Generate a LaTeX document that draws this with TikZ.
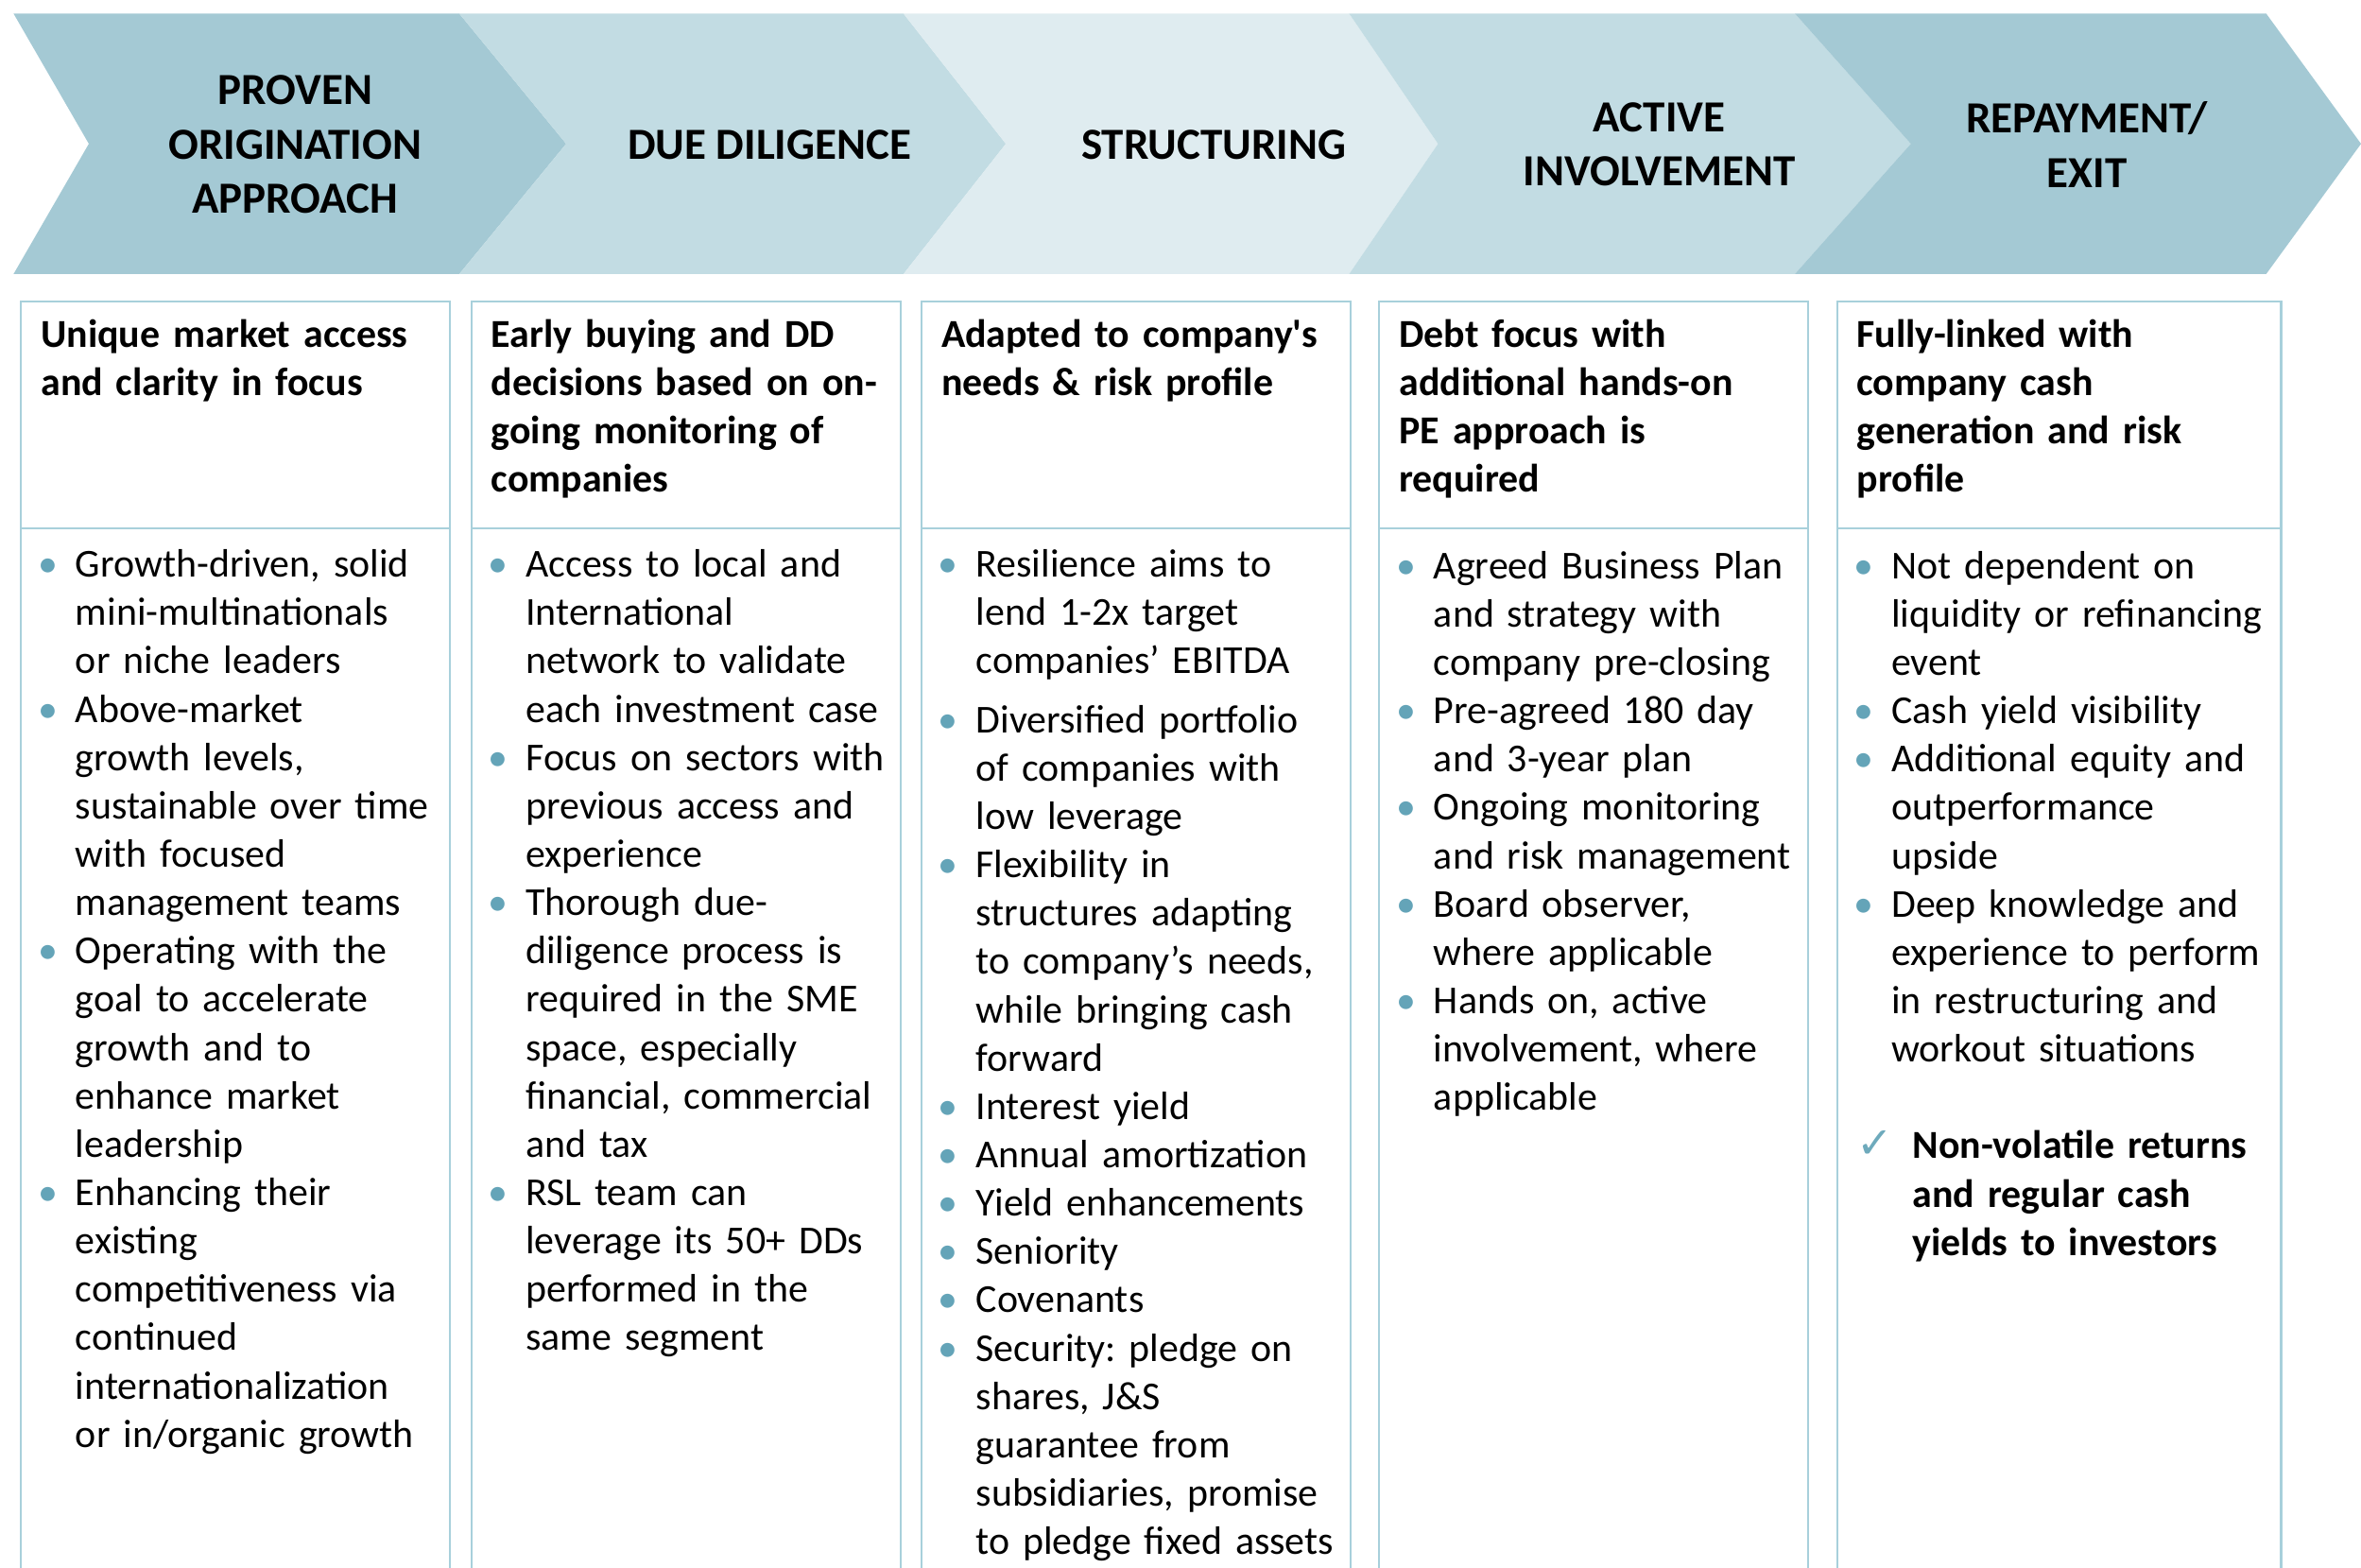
\documentclass[tikz,border=0pt]{standalone}
\usepackage{fontspec}
\setmainfont{Carlito}
\newfontfamily\dejavu{DejaVu Sans}
\definecolor{chevA}{RGB}{164,201,212}
\definecolor{chevB}{RGB}{194,220,227}
\definecolor{chevC}{RGB}{223,236,240}
\definecolor{bord}{RGB}{168,208,219}
\definecolor{bul}{RGB}{100,164,184}
\definecolor{chkc}{RGB}{110,170,188}
\frenchspacing
\newcommand\itm{\par\hangindent=26bp\hangafter=1\noindent\makebox[26bp][l]{\hspace{1bp}{\color{bul}\textbullet}}\strut}
\newcommand\chkitm{\par\hangindent=40bp\hangafter=1\noindent\makebox[40bp][l]{\hspace{3bp}{\dejavu\fontsize{29bp}{29bp}\selectfont\color{chkc}✓}}\strut}
\tikzset{
  ttl/.style={font=\fontsize{29.5bp}{36bp}\selectfont\bfseries, align=center, inner sep=0pt},
  hdr/.style={anchor=north west, inner sep=0pt, text width=300bp, font=\fontsize{26.3bp}{32.1bp}\selectfont\bfseries},
  bdy/.style={anchor=north west, inner sep=0pt, text width=300bp, font=\fontsize{26.3bp}{32.1bp}\selectfont},
  boxline/.style={draw=bord, line width=1.4bp}
}
\begin{document}
\begin{tikzpicture}[x=1bp,y=1bp]
\clip (0,0) rectangle (1568,-1041);
\fill[white] (0,0) rectangle (1568,-1041);
% chevrons
\fill[chevA] (9,-9) -- (305,-9) -- (376,-95.5) -- (305,-182) -- (9,-182) -- (59,-95.5) -- cycle;
\fill[chevB] (305,-9) -- (600,-9) -- (668,-95.5) -- (600,-182) -- (305,-182) -- (376,-95.5) -- cycle;
\fill[chevC] (600,-9) -- (896,-9) -- (955,-95.5) -- (896,-182) -- (600,-182) -- (668,-95.5) -- cycle;
\fill[chevB] (896,-9) -- (1192,-9) -- (1269,-95.5) -- (1192,-182) -- (896,-182) -- (955,-95.5) -- cycle;
\fill[chevA] (1192,-9) -- (1505,-9) -- (1568,-95.5) -- (1505,-182) -- (1192,-182) -- (1269,-95.5) -- cycle;
\node[ttl] (t1) at (196,-96) {PROVEN\\ORIGINATION\\APPROACH};
\node[ttl] (t2) at (511,-96) {DUE DILIGENCE};
\node[ttl] (t3) at (806,-96) {STRUCTURING};
\node[ttl] (t4) at (1102,-96) {ACTIVE\\INVOLVEMENT};
\node[ttl] (t5) at (1386,-96) {REPAYMENT/\\EXIT};
% boxes
\foreach \l/\r in {14/299,313/598,612/897,916/1201,1220/1515}{
  \draw[boxline] (\l,-1060) -- (\l,-200) -- (\r,-200) -- (\r,-1060);
  \draw[boxline] (\l,-351) -- (\r,-351);
}
% headers
\node[hdr] (h1) at (27,-208) {\raggedright\noindent\strut Unique market access\newline and clarity in focus};
\node[hdr] (h2) at (326,-208) {\raggedright\noindent\strut Early buying and DD\newline decisions based on on-\newline going monitoring of\newline companies};
\node[hdr] (h3) at (625,-208) {\raggedright\noindent\strut Adapted to company\textquotesingle s\newline needs \& risk profile};
\node[hdr] (h4) at (929,-208) {\raggedright\noindent\strut Debt focus with\newline additional hands-on\newline PE approach is\newline required};
\node[hdr] (h5) at (1233,-208) {\raggedright\noindent\strut Fully-linked with\newline company cash\newline generation and risk\newline profile};
% bodies
\node[bdy] (b1) at (24,-351) {\raggedright\parskip=0pt
\itm Growth-driven, solid\newline mini-multinationals\newline or niche leaders
\itm Above-market\newline growth levels,\newline sustainable over time\newline with focused\newline management teams
\itm Operating with the\newline goal to accelerate\newline growth and to\newline enhance market\newline leadership
\itm Enhancing their\newline existing\newline competitiveness via\newline continued\newline internationalization\newline or in/organic growth\par};
\node[bdy] (b2) at (323,-351) {\raggedright\parskip=0pt
\itm Access to local and\newline International\newline network to validate\newline each investment case
\itm Focus on sectors with\newline previous access and\newline experience
\itm Thorough due-\newline diligence process is\newline required in the SME\newline space, especially\newline financial, commercial\newline and tax
\itm RSL team can\newline leverage its 50+ DDs\newline performed in the\newline same segment\par};
\node[bdy] (b3) at (622,-351) {\raggedright\parskip=0pt
\itm Resilience aims to\newline lend 1-2x target\newline companies’ EBITDA
\par\vspace{7bp}
\itm Diversified portfolio\newline of companies with\newline low leverage
\itm Flexibility in\newline structures adapting\newline to company’s needs,\newline while bringing cash\newline forward
\itm Interest yield
\itm Annual amortization
\itm Yield enhancements
\itm Seniority
\itm Covenants
\itm Security: pledge on\newline shares, J\&S\newline guarantee from\newline subsidiaries, promise\newline to pledge fixed assets\par};
\node[bdy] (b4) at (926,-352) {\raggedright\parskip=0pt
\itm Agreed Business Plan\newline and strategy with\newline company pre-closing
\itm Pre-agreed 180 day\newline and 3-year plan
\itm Ongoing monitoring\newline and risk management
\itm Board observer,\newline where applicable
\itm Hands on, active\newline involvement, where\newline applicable\par};
\node[bdy] (b5) at (1230,-352) {\raggedright\parskip=0pt
\itm Not dependent on\newline liquidity or refinancing\newline event
\itm Cash yield visibility
\itm Additional equity and\newline outperformance\newline upside
\itm Deep knowledge and\newline experience to perform\newline in restructuring and\newline workout situations
\par\vspace{32.1bp}
\chkitm\textbf{Non-volatile returns\newline and regular cash\newline yields to investors}\par};
\end{tikzpicture}
\end{document}
